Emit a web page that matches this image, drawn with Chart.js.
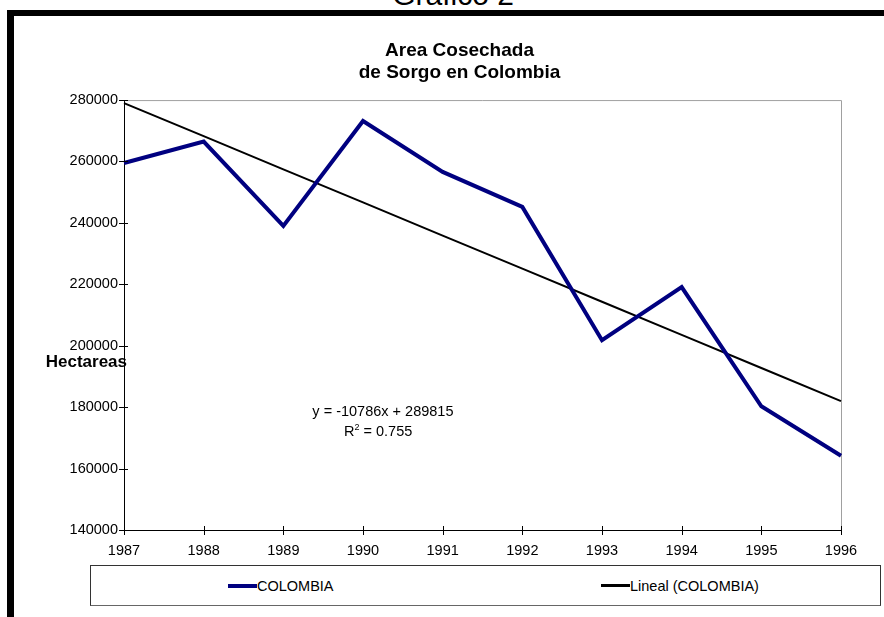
<!DOCTYPE html>
<html>
<head>
<meta charset="utf-8">
<script src="https://cdn.jsdelivr.net/npm/chart.js@4.4.1/dist/chart.umd.min.js"></script>
<style>
    html, body { margin: 0; padding: 0; background: #fff; }
    body { width: 884px; height: 617px; position: relative; overflow: hidden; font-family: "Liberation Sans", Arial, sans-serif; }
    #chart { position: absolute; left: 0; top: 0; }
    .page-title { position: absolute; left: 0; width: 906px; top: -20px; text-align: center; font-size: 30px; line-height: 30px; color: #000; }
    .frame-top { position: absolute; left: 7px; top: 10px; width: 877px; height: 6px; background: #000; }
    .frame-left { position: absolute; left: 7px; top: 10px; width: 7px; height: 607px; background: #000; }
    .legend { position: absolute; left: 90px; top: 565px; width: 791px; height: 41px; box-sizing: border-box; border: 1px solid #333; border-bottom-color: #666; background: #fff; }
    .legend-item { position: absolute; top: 0; height: 39px; display: flex; align-items: center; font-size: 14.5px; color: #000; }
    .legend-line { display: inline-block; width: 29px; }
</style>
</head>
<body>
<div class="page-title">Grafico 2</div>
<canvas id="chart" width="884" height="617"></canvas>
<div class="frame-top"></div>
<div class="frame-left"></div>
<div class="legend" id="legend"></div>

<script>
// Data
const years = ['1987', '1988', '1989', '1990', '1991', '1992', '1993', '1994', '1995', '1996'];
const colombia = [259500, 266500, 239000, 273200, 256600, 245200, 201800, 219100, 180300, 164200];
// Lineal (COLOMBIA): y = -10786x + 289815
const trend = [279029, 268243, 257457, 246671, 235885, 225099, 214313, 203527, 192741, 181955];
const yMin = 140000;
const yMax = 280000;
const yStep = 20000;

const seriesNames = ['COLOMBIA', 'Lineal (COLOMBIA)'];
const seriesColors = ['#000080', '#000000'];
const seriesWidths = [4, 2];
const titleLines = ['Area Cosechada', 'de Sorgo en Colombia'];
const yTitle = 'Hectareas';
const equation = 'y = -10786x + 289815';
const rSquared = '0.755';

const FONT = '"Liberation Sans", Arial, sans-serif';

// Legend (HTML, box under the chart)
const legendPos = [137, 510];
const legend = document.getElementById('legend');
seriesNames.forEach((name, i) => {
    const item = document.createElement('div');
    item.className = 'legend-item';
    item.style.left = legendPos[i] + 'px';
    const line = document.createElement('span');
    line.className = 'legend-line';
    line.style.height = (i === 0 ? 4 : 3) + 'px';
    line.style.background = seriesColors[i];
    item.appendChild(line);
    item.appendChild(document.createTextNode(name));
    legend.appendChild(item);
});

// Plot frame, crossing ticks and free texts
const extras = {
    id: 'extras',
    afterLayout(chart) {
        // title sits a bit right of the canvas centre
        const t = chart.titleBlock;
        if (t) { t.left += 8; t.right += 8; }
    },
    beforeDatasetsDraw(chart) {
        const { ctx, chartArea: a } = chart;
        ctx.save();
        ctx.strokeStyle = '#a0a0a0';
        ctx.lineWidth = 1;
        ctx.beginPath();
        ctx.moveTo(a.left, a.top + 0.5);
        ctx.lineTo(a.right + 0.5, a.top + 0.5);
        ctx.lineTo(a.right + 0.5, a.bottom);
        ctx.stroke();
        ctx.restore();
    },
    afterDraw(chart) {
        const { ctx, chartArea: a, scales: { x, y } } = chart;
        ctx.save();
        ctx.strokeStyle = '#000';
        ctx.lineWidth = 1;
        ctx.beginPath();
        y.ticks.forEach((t, i) => {
            const py = Math.round(y.getPixelForTick(i)) + 0.5;
            ctx.moveTo(a.left - 5, py);
            ctx.lineTo(a.left + 4, py);
        });
        x.ticks.forEach((t, i) => {
            const px = Math.round(x.getPixelForTick(i)) + 0.5;
            ctx.moveTo(px, a.bottom - 4);
            ctx.lineTo(px, a.bottom + 5);
        });
        ctx.stroke();

        ctx.fillStyle = '#000';
        ctx.textBaseline = 'middle';

        // y axis title, horizontal, over the axis
        ctx.font = 'bold 17px ' + FONT;
        ctx.textAlign = 'right';
        ctx.fillText(yTitle, a.left + 3, y.getPixelForValue(194500));

        // trend equation
        ctx.font = '14.5px ' + FONT;
        ctx.textAlign = 'center';
        ctx.fillText(equation, x.getPixelForValue(3.25), y.getPixelForValue(178400));

        // R² line with a small superscript
        const ry = y.getPixelForValue(171900);
        const rest = ' = ' + rSquared;
        ctx.font = '14.5px ' + FONT;
        const wR = ctx.measureText('R').width;
        const wRest = ctx.measureText(rest).width;
        ctx.font = '9px ' + FONT;
        const w2 = ctx.measureText('2').width;
        let rx = x.getPixelForValue(3.19) - (wR + w2 + wRest) / 2;
        ctx.textAlign = 'left';
        ctx.font = '14.5px ' + FONT;
        ctx.fillText('R', rx, ry);
        ctx.font = '9px ' + FONT;
        ctx.fillText('2', rx + wR, ry - 5);
        ctx.font = '14.5px ' + FONT;
        ctx.fillText(rest, rx + wR + w2, ry);
        ctx.restore();
    }
};

new Chart(document.getElementById('chart'), {
    type: 'line',
    data: {
        labels: years,
        datasets: [
            {
                label: seriesNames[0],
                data: colombia,
                borderColor: seriesColors[0],
                borderWidth: seriesWidths[0],
                pointRadius: 0,
                tension: 0,
                fill: false
            },
            {
                label: seriesNames[1],
                data: trend,
                borderColor: seriesColors[1],
                borderWidth: seriesWidths[1],
                pointRadius: 0,
                tension: 0,
                fill: false
            }
        ]
    },
    options: {
        responsive: false,
        animation: false,
        devicePixelRatio: 1,
        layout: { padding: { left: 62, right: 43, top: 40, bottom: 57 } },
        plugins: {
            legend: { display: false },
            tooltip: { enabled: false },
            title: {
                display: true,
                text: titleLines,
                color: '#000',
                font: { family: FONT, size: 19, weight: 'bold', lineHeight: 1.16 },
                padding: { top: 0, bottom: 16 }
            }
        },
        scales: {
            x: {
                type: 'category',
                offset: false,
                grid: { display: false, drawTicks: false },
                border: { display: true, color: '#000', width: 1 },
                ticks: {
                    color: '#000',
                    font: { family: FONT, size: 14.5 },
                    padding: 12,
                    maxRotation: 0,
                    autoSkip: false
                },
                afterFit(scale) { scale.height = 30; }
            },
            y: {
                min: yMin,
                max: yMax,
                grid: { display: false, drawTicks: false },
                border: { display: true, color: '#000', width: 1 },
                ticks: {
                    stepSize: yStep,
                    color: '#000',
                    font: { family: FONT, size: 14.5 },
                    padding: 6,
                    callback: v => String(v)
                },
                afterFit(scale) { scale.width = 62; }
            }
        }
    },
    plugins: [extras]
});
</script>
</body>
</html>
